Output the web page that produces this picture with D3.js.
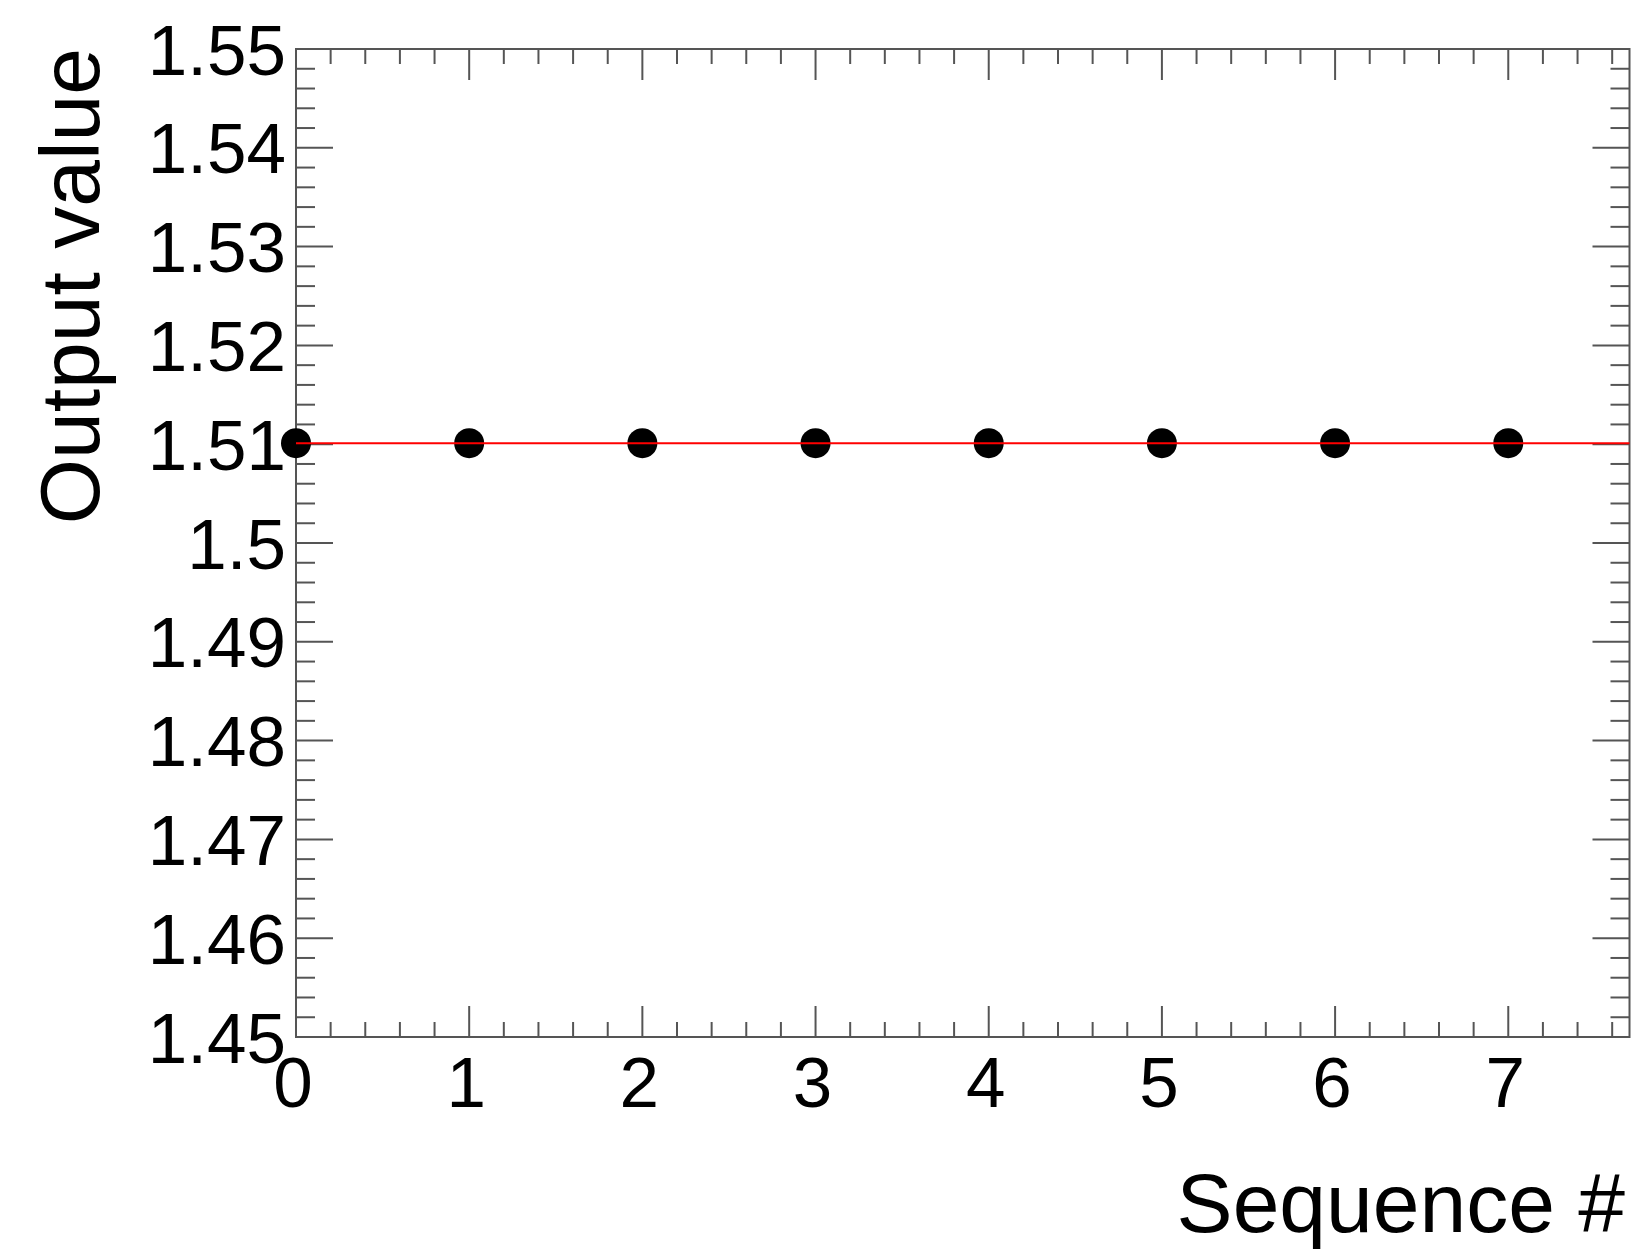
<!DOCTYPE html>
<html>
<head>
<meta charset="utf-8">
<script src="https://cdn.jsdelivr.net/npm/d3@7"></script>
<style>
  html, body { margin: 0; padding: 0; background: #fff; }
  svg { display: block; }
  text { font-family: "Liberation Sans", Arial, Helvetica, sans-serif; fill: #000; }
</style>
</head>
<body>
<script>
// ---- data ----
const sequence = [0, 1, 2, 3, 4, 5, 6, 7];
const outputValues = [1.5101, 1.5101, 1.5101, 1.5101, 1.5101, 1.5101, 1.5101, 1.5101];
const fitValue = 1.5101;
const fitRange = [0, 7.7];
const xTickLabels = ["0", "1", "2", "3", "4", "5", "6", "7"];
const yTickValues = [1.45, 1.46, 1.47, 1.48, 1.49, 1.50, 1.51, 1.52, 1.53, 1.54, 1.55];
const yTickLabels = ["1.45", "1.46", "1.47", "1.48", "1.49", "1.5", "1.51", "1.52", "1.53", "1.54", "1.55"];
const xTitle = "Sequence #";
const yTitle = "Output value";

// ---- layout ----
const W = 1639, H = 1253;
const L = 296, R = 1629.5, T = 49, B = 1037;

const svg = d3.select("body").append("svg").attr("width", W).attr("height", H);

const x = d3.scaleLinear().domain([0, 7.7]).range([L, R]);
const y = d3.scaleLinear().domain([1.45, 1.55]).range([B, T]);

const axisColor = "#555";

// minor tick positions
const xMinor = d3.range(0, 7.7 + 1e-9, 0.2).filter(v => Math.abs(v - Math.round(v)) > 1e-6);
const yMinor = d3.range(1.45, 1.55 + 1e-9, 0.002).filter(v => Math.abs(v * 100 - Math.round(v * 100)) > 1e-6);

const ticks = svg.append("g").attr("stroke", axisColor).attr("stroke-width", 2);

// bottom & top x ticks (inward)
const xMajLen = 31, xMinLen = 15;
sequence.forEach(v => {
  ticks.append("line").attr("x1", x(v)).attr("x2", x(v)).attr("y1", B).attr("y2", B - xMajLen);
  ticks.append("line").attr("x1", x(v)).attr("x2", x(v)).attr("y1", T).attr("y2", T + xMajLen);
});
xMinor.forEach(v => {
  ticks.append("line").attr("x1", x(v)).attr("x2", x(v)).attr("y1", B).attr("y2", B - xMinLen);
  ticks.append("line").attr("x1", x(v)).attr("x2", x(v)).attr("y1", T).attr("y2", T + xMinLen);
});

// left & right y ticks (inward)
const yMajLen = 37, yMinLen = 19;
yTickValues.forEach(v => {
  ticks.append("line").attr("x1", L).attr("x2", L + yMajLen).attr("y1", y(v)).attr("y2", y(v));
  ticks.append("line").attr("x1", R).attr("x2", R - yMajLen).attr("y1", y(v)).attr("y2", y(v));
});
yMinor.forEach(v => {
  ticks.append("line").attr("x1", L).attr("x2", L + yMinLen).attr("y1", y(v)).attr("y2", y(v));
  ticks.append("line").attr("x1", R).attr("x2", R - yMinLen).attr("y1", y(v)).attr("y2", y(v));
});

// frame
svg.append("rect").attr("x", L).attr("y", T).attr("width", R - L).attr("height", B - T)
  .attr("fill", "none").attr("stroke", axisColor).attr("stroke-width", 2);

// tick labels
svg.append("g").selectAll("text").data(yTickValues).join("text")
  .attr("x", L - 10).attr("y", d => y(d)).attr("dy", "0.36em")
  .attr("text-anchor", "end").attr("font-size", 71)
  .text((d, i) => yTickLabels[i]);

svg.append("g").selectAll("text").data(sequence).join("text")
  .attr("x", d => x(d) - 3).attr("y", 1107)
  .attr("text-anchor", "middle").attr("font-size", 71)
  .text((d, i) => xTickLabels[i]);

// titles
svg.append("text").attr("x", 1625).attr("y", 1232).attr("text-anchor", "end")
  .attr("font-size", 84).text(xTitle);
svg.append("text").attr("transform", `translate(99,48) rotate(-90)`).attr("text-anchor", "end")
  .attr("font-size", 84).text(yTitle);

// points
svg.append("g").selectAll("circle").data(sequence).join("circle")
  .attr("cx", d => x(d)).attr("cy", (d, i) => y(outputValues[i])).attr("r", 15).attr("fill", "#000");

// fit line
svg.append("line").attr("x1", x(fitRange[0])).attr("x2", x(fitRange[1]))
  .attr("y1", y(fitValue)).attr("y2", y(fitValue))
  .attr("stroke", "#ff0000").attr("stroke-width", 2);
</script>
</body>
</html>
